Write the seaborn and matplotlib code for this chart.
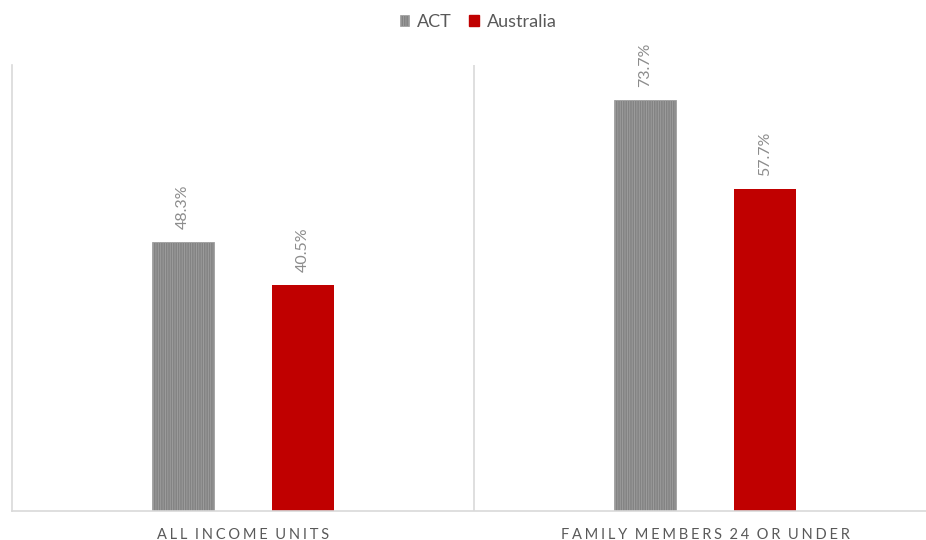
import matplotlib
matplotlib.use("Agg")
import matplotlib.pyplot as plt
from matplotlib.patches import Patch
import seaborn as sns
import pandas as pd

categories = ["ALL INCOME UNITS", "FAMILY MEMBERS 24 OR UNDER"]
act_values = [48.3, 73.7]
australia_values = [40.5, 57.7]
series_names = ["ACT", "Australia"]

df = pd.DataFrame({
    "category": categories * 2,
    "region": [series_names[0]] * 2 + [series_names[1]] * 2,
    "value": act_values + australia_values,
})

sns.set_theme(style="white")
plt.rcParams["font.family"] = ["Lato", "DejaVu Sans"]
plt.rcParams["hatch.linewidth"] = 0.6
plt.rcParams["hatch.color"] = "#676767"

GREY = "#838383"
RED = "#C00000"
AXIS = "#d9d9d9"
TEXT = "#595959"

fig = plt.figure(figsize=(9.26, 5.40), dpi=100)
ax = fig.add_axes([12 / 926, 29 / 540, 924 / 926, 446 / 540])

sns.barplot(data=df, x="category", y="value", hue="region",
            palette=[GREY, RED], width=0.52, gap=0.48,
            order=categories, hue_order=series_names,
            legend=False, ax=ax, saturation=1)

for patch in ax.patches:
    fc = patch.get_facecolor()
    if abs(fc[0] - fc[1]) < 0.05:
        patch.set_hatch("|||||||")
        patch.set_edgecolor("#a0a0a0")
        patch.set_linewidth(0.6)
    else:
        patch.set_edgecolor(RED)
        patch.set_linewidth(0)

ax.set_ylim(0, 80)
ax.set_xlim(-0.5, 1.5)
ax.set_yticks([])
ax.set_xlabel("")
ax.set_ylabel("")

for s in ["top", "right"]:
    ax.spines[s].set_visible(False)
for s in ["left", "bottom"]:
    ax.spines[s].set_color(AXIS)
    ax.spines[s].set_linewidth(1.2)
ax.axvline(0.5, color=AXIS, lw=1.2)

# value labels, rotated above each bar
for patch in ax.patches:
    h = patch.get_height()
    if h <= 0:
        continue
    cx = patch.get_x() + patch.get_width() / 2
    ax.text(cx, h + 2.3, f"{h:.1f}%", rotation=90, ha="center", va="bottom",
            fontsize=11.5, color="#8c8c8c")

# letter-spaced category labels
def spaced(s):
    return "\u2009 \u2009".join("\u2009\u200a".join(w) for w in s.split(" "))

ax.set_xticks(range(len(categories)))
ax.set_xticklabels([spaced(c) for c in categories], fontsize=10.5, color=TEXT)
ax.tick_params(axis="x", length=0, pad=12)

handles = [Patch(facecolor=GREY, edgecolor="#a0a0a0", hatch="|||||||", lw=0.5, label=series_names[0]),
           Patch(facecolor=RED, edgecolor=RED, label=series_names[1])]
fig.legend(handles=handles, loc="center", bbox_to_anchor=(478 / 926, 1 - 22 / 540),
           ncol=2, frameon=False, fontsize=13, handlelength=0.55, handleheight=0.55,
           handletextpad=0.4, columnspacing=1.0, labelcolor=TEXT)

fig.savefig("out.png", dpi=100, facecolor="white")
